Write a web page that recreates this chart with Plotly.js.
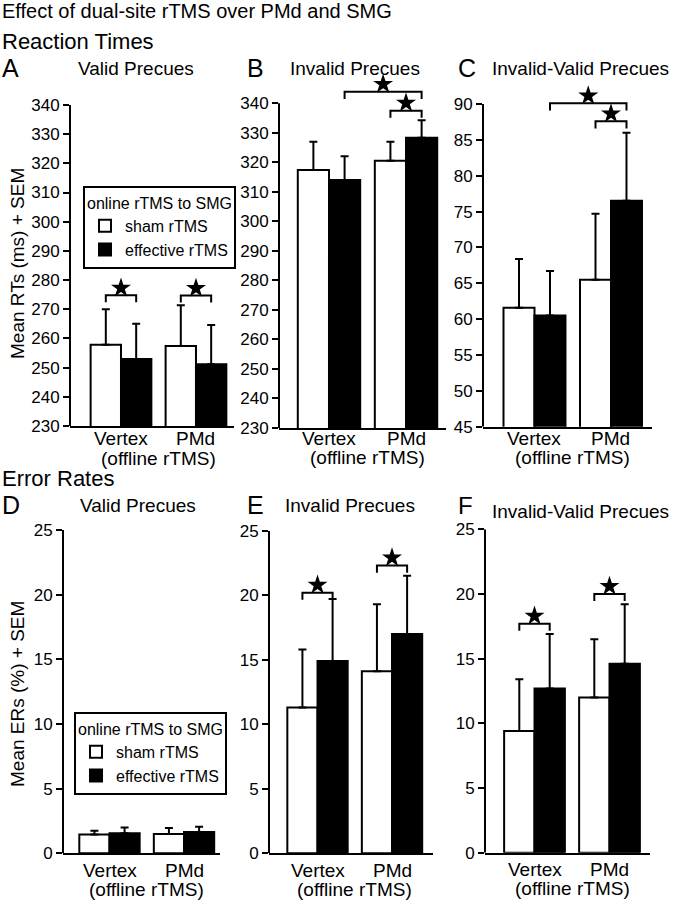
<!DOCTYPE html>
<html><head><meta charset="utf-8">
<script src="https://cdn.plot.ly/plotly-3.0.1.min.js"></script>
<style>html,body{margin:0;padding:0;background:#fff}</style>
</head><body><div id="chart" style="width:676px;height:900px"></div>
<script>
// ---------- data ----------
const categories = ['Vertex', 'PMd'];
const categoryGroupLabel = '(offline rTMS)';
const conditions = ['sham rTMS', 'effective rTMS'];

// Reaction times (ms), mean and SEM
const rtValidSham = [257.8, 257.4];
const rtValidShamSem = [12.2, 14.0];
const rtValidEff = [253.0, 251.2];
const rtValidEffSem = [12.0, 13.4];
const rtInvalidSham = [317.4, 320.5];
const rtInvalidShamSem = [9.6, 6.5];
const rtInvalidEff = [314.0, 328.3];
const rtInvalidEffSem = [8.1, 6.0];
const rtDiffSham = [61.6, 65.5];
const rtDiffShamSem = [6.8, 9.2];
const rtDiffEff = [60.5, 76.5];
const rtDiffEffSem = [6.2, 9.5];

// Error rates (%), mean and SEM
const erValidSham = [1.45, 1.5];
const erValidShamSem = [0.3, 0.45];
const erValidEff = [1.55, 1.65];
const erValidEffSem = [0.45, 0.4];
const erInvalidSham = [11.3, 14.1];
const erInvalidShamSem = [4.5, 5.2];
const erInvalidEff = [14.9, 17.0];
const erInvalidEffSem = [4.8, 4.5];
const erDiffSham = [9.4, 12.0];
const erDiffShamSem = [4.0, 4.5];
const erDiffEff = [12.7, 14.6];
const erDiffEffSem = [4.2, 4.6];

// Significance brackets: [from bar, to bar, level]; bars 0..3 = Vertex sham, Vertex eff, PMd sham, PMd eff
const sigA = [[0, 1, 274.8], [2, 3, 274.7]];
const sigB = [[1, 3, 343.9], [2, 3, 337.5]];
const sigC = [[1, 3, 90.1], [2, 3, 87.6]];
const sigD = [];
const sigE = [[0, 1, 20.2], [2, 3, 22.3]];
const sigF = [[0, 1, 17.7], [2, 3, 20.0]];

// Tick labels
const rtTicks = [230, 240, 250, 260, 270, 280, 290, 300, 310, 320, 330, 340];
const diffTicks = [45, 50, 55, 60, 65, 70, 75, 80, 85, 90];
const erTicks = [0, 5, 10, 15, 20, 25];

// ---------- layout helpers ----------
const W = 676, H = 900;
const FONT = 'Liberation Sans, Arial, Helvetica, sans-serif';
const BARGAP = 0.19;
const HALF = (1 - BARGAP) / 4;

const panels = [
  {sham: rtValidSham, shamSem: rtValidShamSem, eff: rtValidEff, effSem: rtValidEffSem, sig: sigA, ticks: rtTicks,
   xd: [70, 234], yd: [75.8, 426], xr: [-0.68, 1.507], yr: [230, 350], drop: 2.4, starOff: 2.5, legend: 'legend', lbl1: -12, lbl2: -32},
  {sham: rtInvalidSham, shamSem: rtInvalidShamSem, eff: rtInvalidEff, effSem: rtInvalidEffSem, sig: sigB, ticks: rtTicks,
   xd: [279, 446], yd: [73.8, 428], xr: [-0.649, 1.519], yr: [230, 350], drop: 2.4, starOff: 2.6, legend: null, lbl1: -11, lbl2: -30},
  {sham: rtDiffSham, shamSem: rtDiffShamSem, eff: rtDiffEff, effSem: rtDiffEffSem, sig: sigC, ticks: diffTicks,
   xd: [483, 652], yd: [82.5, 426.7], xr: [-0.673, 1.536], yr: [45, 93], drop: 1.0, starOff: 1.05, legend: null, lbl1: -12, lbl2: -31},
  {sham: erValidSham, shamSem: erValidShamSem, eff: erValidEff, effSem: erValidEffSem, sig: sigD, ticks: erTicks,
   xd: [63, 220], yd: [530, 853.3], xr: [-0.624, 1.483], yr: [0, 25], drop: 0.55, starOff: 0.6, legend: 'legend2', lbl1: -17, lbl2: -36},
  {sham: erInvalidSham, shamSem: erInvalidShamSem, eff: erInvalidEff, effSem: erInvalidEffSem, sig: sigE, ticks: erTicks,
   xd: [269, 433], yd: [530.7, 853.3], xr: [-0.651, 1.55], yr: [0, 25], drop: 0.55, starOff: 0.6, legend: null, lbl1: -17, lbl2: -36},
  {sham: erDiffSham, shamSem: erDiffShamSem, eff: erDiffEff, effSem: erDiffEffSem, sig: sigF, ticks: erTicks,
   xd: [485, 650], yd: [529.3, 852.7], xr: [-0.66, 1.54], yr: [0, 25], drop: 0.55, starOff: 0.6, legend: null, lbl1: -17, lbl2: -36}
];

const traces = [];
const layout = {
  width: W, height: H,
  margin: {l: 0, r: 0, t: 0, b: 0},
  paper_bgcolor: 'white', plot_bgcolor: 'rgba(0,0,0,0)',
  barmode: 'group', bargap: BARGAP, bargroupgap: 0,
  font: {family: FONT, color: 'black'},
  showlegend: true,
  shapes: [], annotations: []
};

const legendStyle = (x, y) => ({
  x: x / W, y: 1 - y / H, xanchor: 'left', yanchor: 'top',
  bgcolor: 'white', bordercolor: 'black', borderwidth: 2,
  font: {family: FONT, size: 16, color: 'black'},
  title: {text: 'online rTMS to SMG', side: 'top', font: {family: FONT, size: 16, color: 'black'}},
  traceorder: 'normal', tracegroupgap: 0
});
layout.legend = legendStyle(83, 186);
layout.legend2 = legendStyle(74, 712);

const barX = (k) => Math.floor(k / 2) + (k % 2 ? HALF : -HALF);
const xIdx = categories.map((c, i) => i);
const LBL = {family: FONT, size: 19, color: 'black'};

panels.forEach((p, i) => {
  const n = i === 0 ? '' : String(i + 1);
  const xa = 'x' + n, ya = 'y' + n;
  const errStyle = (arr) => ({type: 'data', symmetric: false, array: arr, arrayminus: arr.map(() => 0),
                              color: 'black', thickness: 2, width: 4});
  traces.push({
    type: 'bar', x: xIdx, y: p.sham, name: conditions[0], xaxis: xa, yaxis: ya,
    marker: {color: 'white', line: {color: 'black', width: 2}},
    error_y: errStyle(p.shamSem),
    showlegend: !!p.legend, legend: p.legend || 'legend', hoverinfo: 'skip'
  });
  traces.push({
    type: 'bar', x: xIdx, y: p.eff, name: conditions[1], xaxis: xa, yaxis: ya,
    marker: {color: 'black', line: {color: 'black', width: 2}},
    error_y: errStyle(p.effSem),
    showlegend: !!p.legend, legend: p.legend || 'legend', hoverinfo: 'skip'
  });
  // significance brackets
  p.sig.forEach(s => {
    const x1 = barX(s[0]), x2 = barX(s[1]), lv = s[2];
    traces.push({
      type: 'scatter', mode: 'lines', xaxis: xa, yaxis: ya,
      x: [x1, x1, x2, x2], y: [lv - p.drop, lv, lv, lv - p.drop],
      line: {color: 'black', width: 2}, showlegend: false, hoverinfo: 'skip', cliponaxis: false
    });
  });
  if (p.sig.length) {
    traces.push({
      type: 'scatter', mode: 'markers', xaxis: xa, yaxis: ya,
      x: p.sig.map(s => (barX(s[0]) + barX(s[1])) / 2),
      y: p.sig.map(s => s[2] + p.starOff),
      marker: {symbol: 'star', size: 15, color: 'black', line: {width: 0}},
      showlegend: false, hoverinfo: 'skip', cliponaxis: false
    });
  }
  layout['xaxis' + n] = {
    domain: [p.xd[0] / W, p.xd[1] / W], range: p.xr, anchor: ya,
    showline: true, linecolor: 'black', linewidth: 2, ticks: '', ticklen: 0,
    tickvals: xIdx, ticktext: categories, showticklabels: false,
    showgrid: false, zeroline: false, fixedrange: true
  };
  layout['yaxis' + n] = {
    domain: [1 - p.yd[1] / H, 1 - p.yd[0] / H], range: p.yr, anchor: xa,
    showline: false, ticks: 'outside', ticklen: 6, tickwidth: 2, tickcolor: 'black',
    tickvals: p.ticks, ticktext: p.ticks.map(String),
    tickfont: {family: FONT, size: 17, color: 'black'},
    showgrid: false, zeroline: false, fixedrange: true
  };
  // y spine only up to the top tick
  layout.shapes.push({
    type: 'line', xref: xa + ' domain', yref: ya, x0: 0, x1: 0,
    y0: p.ticks[0], y1: p.ticks[p.ticks.length - 1], line: {color: 'black', width: 2}
  });
  // category labels
  categories.forEach((c, ci) => {
    layout.annotations.push({
      text: c, xref: xa, yref: ya + ' domain', x: ci, y: 0,
      xanchor: 'center', yanchor: 'middle', yshift: p.lbl1, showarrow: false, font: LBL
    });
  });
  layout.annotations.push({
    text: categoryGroupLabel, xref: xa, yref: ya + ' domain', x: (xIdx[0] + xIdx[1]) / 2, y: 0,
    xanchor: 'center', yanchor: 'middle', yshift: p.lbl2, showarrow: false, font: LBL
  });
});

const txt = (text, x, y, size, anchor, extra) => Object.assign({
  text: text, xref: 'paper', yref: 'paper', x: x / W, y: 1 - y / H,
  xanchor: anchor, yanchor: 'middle', showarrow: false,
  font: {family: FONT, size: size, color: 'black'}
}, extra || {});

layout.annotations.push(
  txt('Effect of dual-site rTMS over PMd and SMG', 0, 11, 20, 'left'),
  txt('Reaction Times', 0, 42, 22, 'left'),
  txt('Error Rates', 0, 478, 22, 'left'),
  txt('A', 0, 68, 25, 'left'), txt('B', 245, 68, 25, 'left'), txt('C', 456, 68, 25, 'left'),
  txt('D', 0, 505, 25, 'left'), txt('E', 245, 505, 25, 'left'), txt('F', 456, 505, 24, 'left'),
  txt('Valid Precues', 136, 68, 19, 'center'),
  txt('Invalid Precues', 355, 68, 19, 'center'),
  txt('Invalid-Valid Precues', 580, 68, 19, 'center'),
  txt('Valid Precues', 138, 505, 19, 'center'),
  txt('Invalid Precues', 350, 505, 19, 'center'),
  txt('Invalid-Valid Precues', 580, 511, 19, 'center'),
  txt('Mean RTs (ms) + SEM', 17, 264, 19, 'center', {textangle: -90}),
  txt('Mean ERs (%) + SEM', 17, 694, 19, 'center', {textangle: -90})
);

Plotly.newPlot('chart', traces, layout, {displayModeBar: false, staticPlot: true});
</script>
</body></html>
